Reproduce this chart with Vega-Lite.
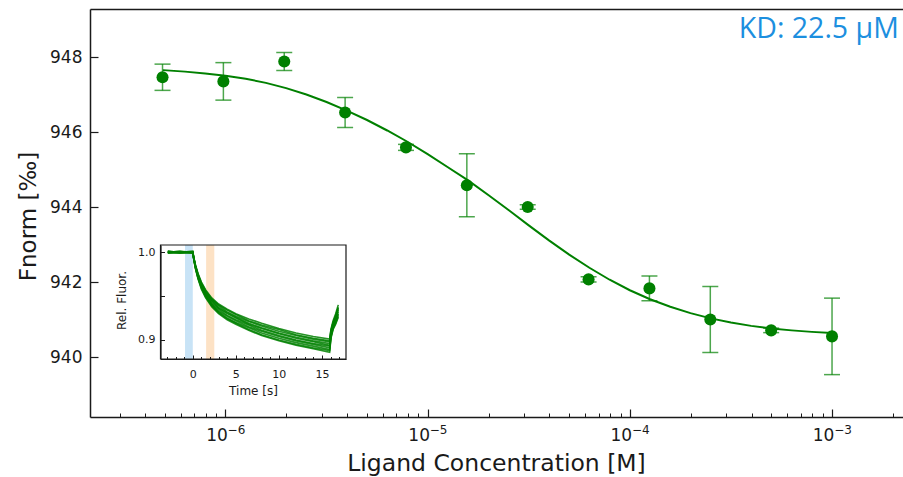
{
  "$schema": "https://vega.github.io/schema/vega-lite/v6.json",
  "autosize": "none",
  "width": 813,
  "height": 408,
  "padding": {"left": 90, "top": 9, "right": 0, "bottom": 60},
  "background": "white",
  "config": {
    "view": {"stroke": null},
    "font": "DejaVu Sans",
    "axis": {"grid": false, "labelFont": "DejaVu Sans", "titleFont": "DejaVu Sans", "labelColor": "#1a1a1a", "titleColor": "#1a1a1a", "domainColor": "#1a1a1a", "tickColor": "#1a1a1a", "titleFontWeight": "normal"}
  },
  "datasets": {
    "points": [
      {"conc": 4.8828125e-7, "fnorm": 947.47, "lo": 947.12, "hi": 947.82},
      {"conc": 9.765625e-7, "fnorm": 947.36, "lo": 946.86, "hi": 947.86},
      {"conc": 1.953125e-6, "fnorm": 947.89, "lo": 947.65, "hi": 948.13},
      {"conc": 3.90625e-6, "fnorm": 946.53, "lo": 946.13, "hi": 946.93},
      {"conc": 7.8125e-6, "fnorm": 945.60, "lo": 945.52, "hi": 945.68},
      {"conc": 1.5625e-5, "fnorm": 944.59, "lo": 943.75, "hi": 945.43},
      {"conc": 3.125e-5, "fnorm": 944.01, "lo": 943.95, "hi": 944.07},
      {"conc": 6.25e-5, "fnorm": 942.08, "lo": 942.01, "hi": 942.15},
      {"conc": 1.25e-4, "fnorm": 941.84, "lo": 941.51, "hi": 942.17},
      {"conc": 2.5e-4, "fnorm": 941.01, "lo": 940.13, "hi": 941.89},
      {"conc": 5e-4, "fnorm": 940.72, "lo": 940.66, "hi": 940.78},
      {"conc": 1e-3, "fnorm": 940.56, "lo": 939.54, "hi": 941.58}
    ],
    "curve": [
      {"conc": 4.9e-7, "fit": 947.66},
      {"conc": 6.31e-7, "fit": 947.62},
      {"conc": 7.94e-7, "fit": 947.57},
      {"conc": 1e-6, "fit": 947.51},
      {"conc": 1.259e-6, "fit": 947.43},
      {"conc": 1.585e-6, "fit": 947.32},
      {"conc": 1.995e-6, "fit": 947.18},
      {"conc": 2.512e-6, "fit": 947.01},
      {"conc": 3.162e-6, "fit": 946.81},
      {"conc": 3.981e-6, "fit": 946.58},
      {"conc": 5.012e-6, "fit": 946.33},
      {"conc": 6.31e-6, "fit": 946.05},
      {"conc": 7.943e-6, "fit": 945.75},
      {"conc": 1e-5, "fit": 945.42},
      {"conc": 1.259e-5, "fit": 945.07},
      {"conc": 1.585e-5, "fit": 944.72},
      {"conc": 1.995e-5, "fit": 944.33},
      {"conc": 2.512e-5, "fit": 943.93},
      {"conc": 3.162e-5, "fit": 943.52},
      {"conc": 3.981e-5, "fit": 943.12},
      {"conc": 5.012e-5, "fit": 942.74},
      {"conc": 6.31e-5, "fit": 942.39},
      {"conc": 7.943e-5, "fit": 942.07},
      {"conc": 1e-4, "fit": 941.79},
      {"conc": 1.259e-4, "fit": 941.55},
      {"conc": 1.585e-4, "fit": 941.35},
      {"conc": 1.995e-4, "fit": 941.18},
      {"conc": 2.512e-4, "fit": 941.04},
      {"conc": 3.162e-4, "fit": 940.93},
      {"conc": 3.981e-4, "fit": 940.84},
      {"conc": 5.012e-4, "fit": 940.77},
      {"conc": 6.31e-4, "fit": 940.72},
      {"conc": 7.943e-4, "fit": 940.68},
      {"conc": 1e-3, "fit": 940.65}
    ],
    "traces": [
      {"id": 1, "t": -2.9, "f": 1.000}, {"id": 1, "t": -1.5, "f": 1.001}, {"id": 1, "t": 0, "f": 1.000}, {"id": 1, "t": 0.1, "f": 0.995}, {"id": 1, "t": 0.3, "f": 0.986}, {"id": 1, "t": 0.6, "f": 0.976}, {"id": 1, "t": 1.0, "f": 0.966}, {"id": 1, "t": 1.5, "f": 0.957}, {"id": 1, "t": 2.2, "f": 0.948}, {"id": 1, "t": 3, "f": 0.941}, {"id": 1, "t": 4, "f": 0.935}, {"id": 1, "t": 5, "f": 0.930}, {"id": 1, "t": 6.5, "f": 0.924}, {"id": 1, "t": 8, "f": 0.919}, {"id": 1, "t": 10, "f": 0.913}, {"id": 1, "t": 12, "f": 0.908}, {"id": 1, "t": 14, "f": 0.904}, {"id": 1, "t": 15.9, "f": 0.901}, {"id": 1, "t": 16.05, "f": 0.912}, {"id": 1, "t": 16.3, "f": 0.922}, {"id": 1, "t": 16.6, "f": 0.930}, {"id": 1, "t": 16.9, "f": 0.940},
      {"id": 2, "t": -2.9, "f": 1.001}, {"id": 2, "t": -1.5, "f": 1.000}, {"id": 2, "t": 0, "f": 1.000}, {"id": 2, "t": 0.1, "f": 0.994}, {"id": 2, "t": 0.3, "f": 0.985}, {"id": 2, "t": 0.6, "f": 0.975}, {"id": 2, "t": 1.0, "f": 0.965}, {"id": 2, "t": 1.5, "f": 0.956}, {"id": 2, "t": 2.2, "f": 0.947}, {"id": 2, "t": 3, "f": 0.940}, {"id": 2, "t": 4, "f": 0.934}, {"id": 2, "t": 5, "f": 0.929}, {"id": 2, "t": 6.5, "f": 0.922}, {"id": 2, "t": 8, "f": 0.917}, {"id": 2, "t": 10, "f": 0.912}, {"id": 2, "t": 12, "f": 0.906}, {"id": 2, "t": 14, "f": 0.902}, {"id": 2, "t": 15.9, "f": 0.899}, {"id": 2, "t": 16.05, "f": 0.911}, {"id": 2, "t": 16.3, "f": 0.920}, {"id": 2, "t": 16.6, "f": 0.928}, {"id": 2, "t": 16.9, "f": 0.937},
      {"id": 3, "t": -2.9, "f": 0.999}, {"id": 3, "t": -1.5, "f": 1.000}, {"id": 3, "t": 0, "f": 1.001}, {"id": 3, "t": 0.1, "f": 0.995}, {"id": 3, "t": 0.3, "f": 0.985}, {"id": 3, "t": 0.6, "f": 0.975}, {"id": 3, "t": 1.0, "f": 0.964}, {"id": 3, "t": 1.5, "f": 0.955}, {"id": 3, "t": 2.2, "f": 0.946}, {"id": 3, "t": 3, "f": 0.939}, {"id": 3, "t": 4, "f": 0.932}, {"id": 3, "t": 5, "f": 0.927}, {"id": 3, "t": 6.5, "f": 0.921}, {"id": 3, "t": 8, "f": 0.916}, {"id": 3, "t": 10, "f": 0.910}, {"id": 3, "t": 12, "f": 0.905}, {"id": 3, "t": 14, "f": 0.901}, {"id": 3, "t": 15.9, "f": 0.898}, {"id": 3, "t": 16.05, "f": 0.910}, {"id": 3, "t": 16.3, "f": 0.920}, {"id": 3, "t": 16.6, "f": 0.927}, {"id": 3, "t": 16.9, "f": 0.937},
      {"id": 4, "t": -2.9, "f": 1.000}, {"id": 4, "t": -1.5, "f": 0.999}, {"id": 4, "t": 0, "f": 1.000}, {"id": 4, "t": 0.1, "f": 0.994}, {"id": 4, "t": 0.3, "f": 0.985}, {"id": 4, "t": 0.6, "f": 0.974}, {"id": 4, "t": 1.0, "f": 0.963}, {"id": 4, "t": 1.5, "f": 0.954}, {"id": 4, "t": 2.2, "f": 0.945}, {"id": 4, "t": 3, "f": 0.937}, {"id": 4, "t": 4, "f": 0.931}, {"id": 4, "t": 5, "f": 0.926}, {"id": 4, "t": 6.5, "f": 0.919}, {"id": 4, "t": 8, "f": 0.914}, {"id": 4, "t": 10, "f": 0.908}, {"id": 4, "t": 12, "f": 0.903}, {"id": 4, "t": 14, "f": 0.899}, {"id": 4, "t": 15.9, "f": 0.896}, {"id": 4, "t": 16.05, "f": 0.908}, {"id": 4, "t": 16.3, "f": 0.918}, {"id": 4, "t": 16.6, "f": 0.926}, {"id": 4, "t": 16.9, "f": 0.935},
      {"id": 5, "t": -2.9, "f": 1.001}, {"id": 5, "t": -1.5, "f": 1.000}, {"id": 5, "t": 0, "f": 1.000}, {"id": 5, "t": 0.1, "f": 0.994}, {"id": 5, "t": 0.3, "f": 0.984}, {"id": 5, "t": 0.6, "f": 0.973}, {"id": 5, "t": 1.0, "f": 0.962}, {"id": 5, "t": 1.5, "f": 0.953}, {"id": 5, "t": 2.2, "f": 0.944}, {"id": 5, "t": 3, "f": 0.936}, {"id": 5, "t": 4, "f": 0.930}, {"id": 5, "t": 5, "f": 0.925}, {"id": 5, "t": 6.5, "f": 0.918}, {"id": 5, "t": 8, "f": 0.913}, {"id": 5, "t": 10, "f": 0.907}, {"id": 5, "t": 12, "f": 0.902}, {"id": 5, "t": 14, "f": 0.898}, {"id": 5, "t": 15.9, "f": 0.894}, {"id": 5, "t": 16.05, "f": 0.907}, {"id": 5, "t": 16.3, "f": 0.917}, {"id": 5, "t": 16.6, "f": 0.925}, {"id": 5, "t": 16.9, "f": 0.934},
      {"id": 6, "t": -2.9, "f": 1.000}, {"id": 6, "t": -1.5, "f": 1.001}, {"id": 6, "t": 0, "f": 0.999}, {"id": 6, "t": 0.1, "f": 0.994}, {"id": 6, "t": 0.3, "f": 0.984}, {"id": 6, "t": 0.6, "f": 0.973}, {"id": 6, "t": 1.0, "f": 0.962}, {"id": 6, "t": 1.5, "f": 0.952}, {"id": 6, "t": 2.2, "f": 0.942}, {"id": 6, "t": 3, "f": 0.935}, {"id": 6, "t": 4, "f": 0.928}, {"id": 6, "t": 5, "f": 0.923}, {"id": 6, "t": 6.5, "f": 0.917}, {"id": 6, "t": 8, "f": 0.911}, {"id": 6, "t": 10, "f": 0.905}, {"id": 6, "t": 12, "f": 0.900}, {"id": 6, "t": 14, "f": 0.896}, {"id": 6, "t": 15.9, "f": 0.893}, {"id": 6, "t": 16.05, "f": 0.906}, {"id": 6, "t": 16.3, "f": 0.916}, {"id": 6, "t": 16.6, "f": 0.923}, {"id": 6, "t": 16.9, "f": 0.932},
      {"id": 7, "t": -2.9, "f": 0.999}, {"id": 7, "t": -1.5, "f": 1.000}, {"id": 7, "t": 0, "f": 1.000}, {"id": 7, "t": 0.1, "f": 0.994}, {"id": 7, "t": 0.3, "f": 0.983}, {"id": 7, "t": 0.6, "f": 0.972}, {"id": 7, "t": 1.0, "f": 0.961}, {"id": 7, "t": 1.5, "f": 0.951}, {"id": 7, "t": 2.2, "f": 0.941}, {"id": 7, "t": 3, "f": 0.933}, {"id": 7, "t": 4, "f": 0.927}, {"id": 7, "t": 5, "f": 0.922}, {"id": 7, "t": 6.5, "f": 0.915}, {"id": 7, "t": 8, "f": 0.910}, {"id": 7, "t": 10, "f": 0.904}, {"id": 7, "t": 12, "f": 0.899}, {"id": 7, "t": 14, "f": 0.895}, {"id": 7, "t": 15.9, "f": 0.891}, {"id": 7, "t": 16.05, "f": 0.905}, {"id": 7, "t": 16.3, "f": 0.915}, {"id": 7, "t": 16.6, "f": 0.922}, {"id": 7, "t": 16.9, "f": 0.930},
      {"id": 8, "t": -2.9, "f": 1.000}, {"id": 8, "t": -1.5, "f": 1.000}, {"id": 8, "t": 0, "f": 1.001}, {"id": 8, "t": 0.1, "f": 0.993}, {"id": 8, "t": 0.3, "f": 0.983}, {"id": 8, "t": 0.6, "f": 0.971}, {"id": 8, "t": 1.0, "f": 0.960}, {"id": 8, "t": 1.5, "f": 0.950}, {"id": 8, "t": 2.2, "f": 0.940}, {"id": 8, "t": 3, "f": 0.932}, {"id": 8, "t": 4, "f": 0.925}, {"id": 8, "t": 5, "f": 0.920}, {"id": 8, "t": 6.5, "f": 0.914}, {"id": 8, "t": 8, "f": 0.908}, {"id": 8, "t": 10, "f": 0.902}, {"id": 8, "t": 12, "f": 0.897}, {"id": 8, "t": 14, "f": 0.893}, {"id": 8, "t": 15.9, "f": 0.889}, {"id": 8, "t": 16.05, "f": 0.904}, {"id": 8, "t": 16.3, "f": 0.914}, {"id": 8, "t": 16.6, "f": 0.920}, {"id": 8, "t": 16.9, "f": 0.929},
      {"id": 9, "t": -2.9, "f": 1.001}, {"id": 9, "t": -1.5, "f": 0.999}, {"id": 9, "t": 0, "f": 1.000}, {"id": 9, "t": 0.1, "f": 0.993}, {"id": 9, "t": 0.3, "f": 0.982}, {"id": 9, "t": 0.6, "f": 0.971}, {"id": 9, "t": 1.0, "f": 0.959}, {"id": 9, "t": 1.5, "f": 0.949}, {"id": 9, "t": 2.2, "f": 0.939}, {"id": 9, "t": 3, "f": 0.931}, {"id": 9, "t": 4, "f": 0.924}, {"id": 9, "t": 5, "f": 0.919}, {"id": 9, "t": 6.5, "f": 0.912}, {"id": 9, "t": 8, "f": 0.906}, {"id": 9, "t": 10, "f": 0.900}, {"id": 9, "t": 12, "f": 0.895}, {"id": 9, "t": 14, "f": 0.891}, {"id": 9, "t": 15.9, "f": 0.888}, {"id": 9, "t": 16.05, "f": 0.903}, {"id": 9, "t": 16.3, "f": 0.913}, {"id": 9, "t": 16.6, "f": 0.919}, {"id": 9, "t": 16.9, "f": 0.927},
      {"id": 10, "t": -2.9, "f": 1.000}, {"id": 10, "t": -1.5, "f": 1.000}, {"id": 10, "t": 0, "f": 0.999}, {"id": 10, "t": 0.1, "f": 0.993}, {"id": 10, "t": 0.3, "f": 0.982}, {"id": 10, "t": 0.6, "f": 0.970}, {"id": 10, "t": 1.0, "f": 0.958}, {"id": 10, "t": 1.5, "f": 0.948}, {"id": 10, "t": 2.2, "f": 0.938}, {"id": 10, "t": 3, "f": 0.930}, {"id": 10, "t": 4, "f": 0.923}, {"id": 10, "t": 5, "f": 0.918}, {"id": 10, "t": 6.5, "f": 0.911}, {"id": 10, "t": 8, "f": 0.905}, {"id": 10, "t": 10, "f": 0.899}, {"id": 10, "t": 12, "f": 0.894}, {"id": 10, "t": 14, "f": 0.890}, {"id": 10, "t": 15.9, "f": 0.886}, {"id": 10, "t": 16.05, "f": 0.902}, {"id": 10, "t": 16.3, "f": 0.912}, {"id": 10, "t": 16.6, "f": 0.918}, {"id": 10, "t": 16.9, "f": 0.926}
    ]
  },
  "layer": [
    {
      "layer": [
        {
          "data": {"name": "curve"},
          "mark": {"type": "line", "color": "#008000", "strokeWidth": 2},
          "encoding": {
            "x": {"field": "conc", "type": "quantitative", "scale": {"type": "log", "domain": [2.138e-7, 2.244e-3], "nice": false},
              "axis": {"orient": "top", "ticks": false, "labels": false, "domain": true, "domainWidth": 1.5, "title": null}},
            "y": {"field": "fit", "type": "quantitative", "scale": {"domain": [938.41, 949.29], "nice": false, "zero": false}, "axis": null}
          }
        },
        {
          "data": {"name": "points"},
          "mark": {"type": "rule", "color": "#008000", "opacity": 0.7, "strokeWidth": 1.5},
          "encoding": {
            "x": {"field": "conc", "type": "quantitative", "scale": {"type": "log", "domain": [2.138e-7, 2.244e-3], "nice": false},
              "axis": {"orient": "bottom", "values": [3e-7, 4e-7, 5e-7, 6e-7, 7e-7, 8e-7, 9e-7, 2e-6, 3e-6, 4e-6, 5e-6, 6e-6, 7e-6, 8e-6, 9e-6, 2e-5, 3e-5, 4e-5, 5e-5, 6e-5, 7e-5, 8e-5, 9e-5, 2e-4, 3e-4, 4e-4, 5e-4, 6e-4, 7e-4, 8e-4, 9e-4, 2e-3], "tickSize": -4, "tickWidth": 1, "labels": false, "domain": false, "title": null}},
            "y": {"field": "lo", "type": "quantitative", "scale": {"domain": [938.41, 949.29], "nice": false, "zero": false}, "axis": null},
            "y2": {"field": "hi"}
          }
        },
        {
          "data": {"name": "points"},
          "mark": {"type": "tick", "orient": "horizontal", "color": "#008000", "opacity": 0.7, "size": 16, "thickness": 1.5},
          "encoding": {
            "x": {"field": "conc", "type": "quantitative", "scale": {"type": "log", "domain": [2.138e-7, 2.244e-3], "nice": false},
              "axis": {"orient": "bottom", "values": [1e-6, 1e-5, 1e-4, 1e-3], "ticks": false, "tickSize": 0, "domain": false, "title": null, "labelPadding": 7, "labelFontSize": 12, "labelBaseline": "top", "labelAlign": "center", "labelOffset": 10.5,
                "labelExpr": "datum.value < 3e-6 ? '−6' : datum.value < 3e-5 ? '−5' : datum.value < 3e-4 ? '−4' : '−3'"}},
            "y": {"field": "lo", "type": "quantitative", "scale": {"domain": [938.41, 949.29], "nice": false, "zero": false}, "axis": null}
          }
        },
        {
          "data": {"name": "points"},
          "mark": {"type": "tick", "orient": "horizontal", "color": "#008000", "opacity": 0.7, "size": 16, "thickness": 1.5},
          "encoding": {
            "x": {"field": "conc", "type": "quantitative", "scale": {"type": "log", "domain": [2.138e-7, 2.244e-3], "nice": false}, "axis": null},
            "y": {"field": "hi", "type": "quantitative", "scale": {"domain": [938.41, 949.29], "nice": false, "zero": false}, "axis": null}
          }
        },
        {
          "data": {"name": "points"},
          "mark": {"type": "circle", "size": 145, "color": "#008000", "opacity": 1},
          "encoding": {
            "x": {"field": "conc", "type": "quantitative", "scale": {"type": "log", "domain": [2.138e-7, 2.244e-3], "nice": false},
              "axis": {"orient": "bottom", "values": [1e-6, 1e-5, 1e-4, 1e-3], "tickSize": -8, "tickWidth": 1.2, "domainWidth": 1.5, "labelPadding": 18, "labelFontSize": 17, "labelBaseline": "top", "labelAlign": "center", "labelOffset": -9,
                "labelExpr": "'10'",
                "title": "Ligand Concentration [M]", "titleFontSize": 23.5, "titleX": 406, "titleY": 53, "titleBaseline": "alphabetic"}},
            "y": {"field": "fnorm", "type": "quantitative", "scale": {"domain": [938.41, 949.29], "nice": false, "zero": false},
              "axis": {"orient": "left", "values": [940, 942, 944, 946, 948], "tickSize": -8, "tickWidth": 1.2, "domainWidth": 1.5, "labelPadding": 16, "labelFontSize": 17,
                "title": "Fnorm [‰]", "titleFontSize": 23, "titleX": -55, "titleY": 207, "titleBaseline": "alphabetic", "titleAngle": -90}}
          }
        },
        {
          "data": {"values": [{"label": "KD: 22.5 µM"}]},
          "mark": {"type": "text", "align": "right", "baseline": "middle", "font": "Open Sans", "fontSize": 28.5, "color": "#1c8fdf"},
          "encoding": {
            "x": {"datum": 2.14e-3, "type": "quantitative", "scale": {"type": "log", "domain": [2.138e-7, 2.244e-3], "nice": false}, "axis": null},
            "y": {"datum": 948.75, "type": "quantitative", "scale": {"domain": [938.41, 949.29], "nice": false, "zero": false}, "axis": null},
            "text": {"field": "label"}
          }
        }
      ],
      "resolve": {"axis": {"x": "independent", "y": "independent"}}
    },
    {
      "layer": [
        {
          "data": {"values": [{"t0": -0.9, "t1": 0}]},
          "mark": {"type": "rect", "color": "#c8e3f6", "opacity": 1},
          "encoding": {
            "x": {"field": "t0", "type": "quantitative", "scale": {"domain": [-3.75, 17.8], "range": [70.5, 256], "nice": false, "zero": false},
              "axis": {"orient": "bottom", "offset": -58, "values": [0, 5, 10, 15], "tickSize": -4, "tickWidth": 1, "domainWidth": 1.2, "labelPadding": 13, "labelFontSize": 11, "labelBaseline": "top", "zindex": 1,
                "title": "Time [s]", "titleFontSize": 12, "titleX": 163, "titleY": 31, "titleBaseline": "middle"}},
            "x2": {"field": "t1"},
            "y": {"datum": 0.8783, "type": "quantitative", "scale": {"domain": [0.8783, 1.0083], "range": [350, 236], "nice": false, "zero": false},
              "axis": {"orient": "left", "offset": -70.5, "values": [0.9, 0.95, 1.0], "tickSize": -4, "tickWidth": 1, "domainWidth": 1.2, "labelPadding": 9.5, "labelFontSize": 11, "zindex": 1,
                "labelExpr": "abs(datum.value - 0.95) < 0.01 ? '' : format(datum.value, '.1f')",
                "title": "Rel. Fluor.", "titleFontSize": 12, "titleX": -38.8, "titleY": 291, "titleBaseline": "middle", "titleAngle": -90}},
            "y2": {"datum": 1.0083}
          }
        },
        {
          "data": {"values": [{"t0": 1.55, "t1": 2.5}]},
          "mark": {"type": "rect", "color": "#fde2c5", "opacity": 1},
          "encoding": {
            "x": {"field": "t0", "type": "quantitative", "scale": {"domain": [-3.75, 17.8], "range": [70.5, 256], "nice": false, "zero": false}, "axis": null},
            "x2": {"field": "t1"},
            "y": {"datum": 0.8783, "type": "quantitative", "scale": {"domain": [0.8783, 1.0083], "range": [350, 236], "nice": false, "zero": false}, "axis": null},
            "y2": {"datum": 1.0083}
          }
        },
        {
          "data": {"name": "traces"},
          "mark": {"type": "line", "color": "#008000", "strokeWidth": 1.6, "opacity": 0.85},
          "encoding": {
            "x": {"field": "t", "type": "quantitative", "scale": {"domain": [-3.75, 17.8], "range": [70.5, 256], "nice": false, "zero": false},
              "axis": {"orient": "bottom", "offset": -58, "values": [-3, -2, -1, 1, 2, 3, 4, 6, 7, 8, 9, 11, 12, 13, 14, 16, 17], "tickSize": -2.5, "tickWidth": 1, "labels": false, "domain": false, "title": null, "zindex": 1}},
            "y": {"field": "f", "type": "quantitative", "scale": {"domain": [0.8783, 1.0083], "range": [350, 236], "nice": false, "zero": false}, "axis": null},
            "detail": {"field": "id", "type": "nominal"}
          }
        },
        {
          "data": {"values": [{"frame": 1}]},
          "mark": {"type": "rect", "fill": "white", "fillOpacity": 0, "stroke": "#1a1a1a", "strokeWidth": 1.2},
          "encoding": {
            "x": {"datum": -3.75, "type": "quantitative", "scale": {"domain": [-3.75, 17.8], "range": [70.5, 256], "nice": false, "zero": false}, "axis": null},
            "x2": {"datum": 17.8},
            "y": {"datum": 0.8783, "type": "quantitative", "scale": {"domain": [0.8783, 1.0083], "range": [350, 236], "nice": false, "zero": false}, "axis": null},
            "y2": {"datum": 1.0083}
          }
        }
      ],
      "resolve": {"axis": {"x": "independent", "y": "independent"}}
    }
  ],
  "resolve": {"scale": {"x": "independent", "y": "independent"}}
}
